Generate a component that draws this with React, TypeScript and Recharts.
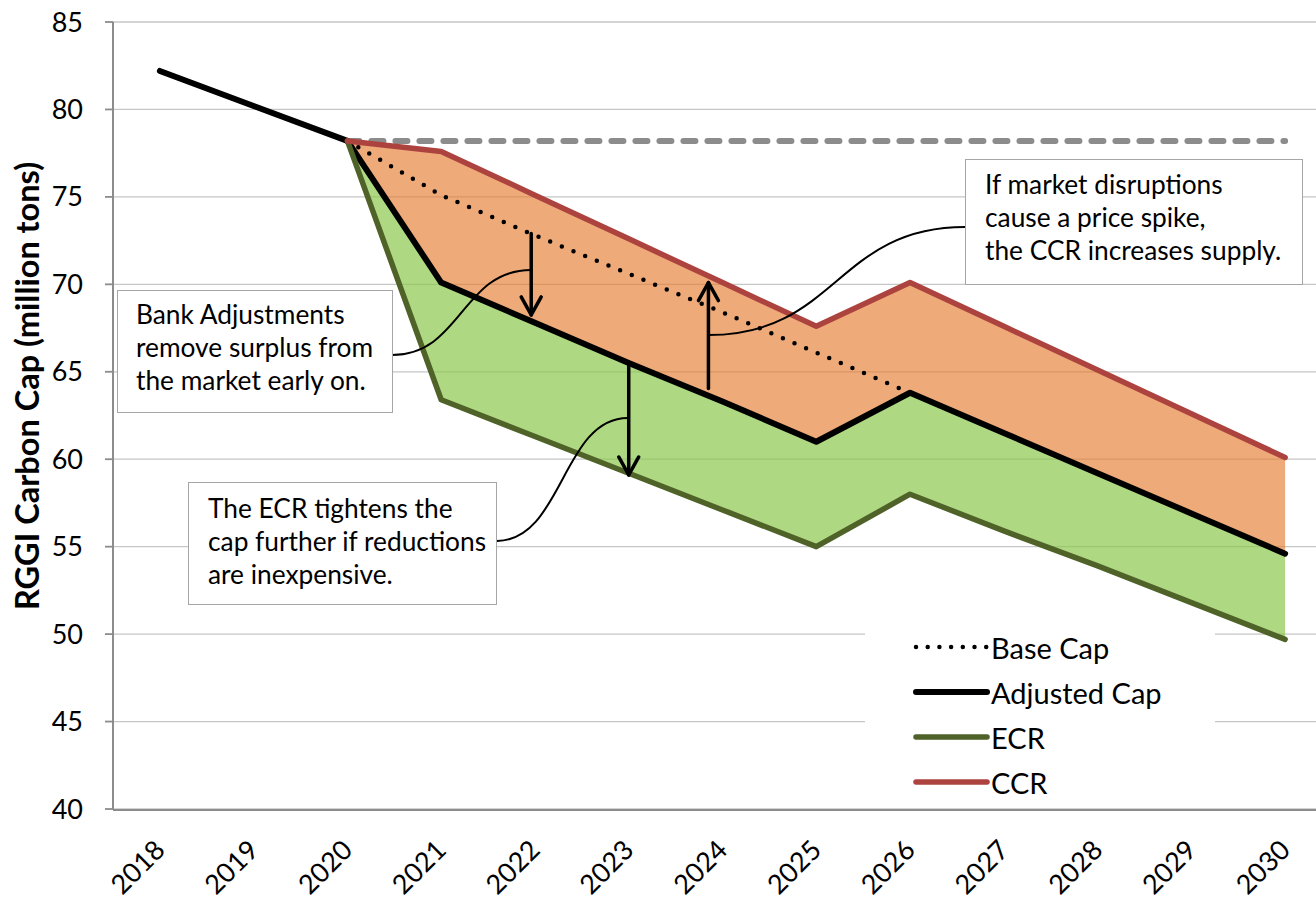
import {
  ComposedChart,
  Area,
  Line,
  XAxis,
  YAxis,
  CartesianGrid,
  ReferenceLine,
  Legend,
} from 'recharts'

const years = [2018, 2019, 2020, 2021, 2022, 2023, 2024, 2025, 2026, 2027, 2028, 2029, 2030]
const adjustedCap = [82.2, 80.2, 78.2, 70.1, 67.8, 65.5, 63.3, 61.0, 63.8, 61.5, 59.2, 56.9, 54.6]
const baseCap = [null, null, 78.2, 75.1, 72.8, 70.6, 68.4, 66.1, 63.8, null, null, null, null]
const ecrCap = [null, null, 78.2, 63.4, 61.3, 59.2, 57.1, 55.0, 58.0, 55.9, 53.9, 51.8, 49.7]
const ccrCap = [null, null, 78.2, 77.6, 75.1, 72.6, 70.1, 67.6, 70.1, 67.6, 65.1, 62.6, 60.1]
const cap2020Level = [null, null, 78.2, 78.2, 78.2, 78.2, 78.2, 78.2, 78.2, 78.2, 78.2, 78.2, 78.2]
const yTicks = [40, 45, 50, 55, 60, 65, 70, 75, 80, 85]
const categoryEdges = [2017.5, 2018.5, 2019.5, 2020.5, 2021.5, 2022.5, 2023.5, 2024.5, 2025.5, 2026.5, 2027.5, 2028.5, 2029.5, 2030.5]

const data = years.map((year, i) => ({
  year,
  adj: adjustedCap[i],
  base: baseCap[i],
  ecr: ecrCap[i],
  ccr: ccrCap[i],
  cap2020: cap2020Level[i],
}))

// annotation anchors, in data units
const arrows = [
  { x: 2021.96, from: 72.9, to: 68.25 },
  { x: 2023.85, from: 64.05, to: 70.1 },
  { x: 2023.0, from: 65.55, to: 59.1 },
]
const connectors = [
  { x1: 2020.475, y1: 65.96, x2: 2021.96, y2: 70.82 },
  { x1: 2026.586, y1: 73.28, x2: 2023.85, y2: 67.1 },
  { x1: 2021.595, y1: 55.33, x2: 2022.99, y2: 62.36 },
]

const ECR_COLOR = '#4f6228'
const CCR_COLOR = '#ac433f'
const AXIS_COLOR = '#8c8c8c'
const FONT = 'Lato, "Open Sans", sans-serif'

const legendItems = [
  { label: 'Base Cap', color: '#000', width: 4.5, dash: '0 11.7' },
  { label: 'Adjusted Cap', color: '#000', width: 6, dash: undefined },
  { label: 'ECR', color: ECR_COLOR, width: 5.5, dash: undefined },
  { label: 'CCR', color: CCR_COLOR, width: 5.5, dash: undefined },
]

function YearTick({ x, y, payload }: { x: number; y: number; payload: { value: number } }) {
  const ty = y + 36
  return (
    <g transform={`translate(${x},${ty}) rotate(-45)`}>
      <text
        x={0}
        y={0}
        dy="0.35em"
        textAnchor="end"
        fill="#000"
        style={{ fontSize: '27px', fontFamily: FONT }}
      >
        {payload.value}
      </text>
    </g>
  )
}

function NoLabel() {
  return <g />
}

function ArrowShape(p: any) {
  const { x1, y1, x2, y2 } = p
  const len = Math.hypot(x2 - x1, y2 - y1) || 1
  const ux = (x2 - x1) / len
  const uy = (y2 - y1) / len
  const bx = x2 - ux * 18
  const by = y2 - uy * 18
  return (
    <g stroke="#000" strokeWidth={3.5} fill="none" strokeLinecap="round" strokeLinejoin="round">
      <line x1={x1} y1={y1} x2={x2} y2={y2} />
      <polyline points={`${bx - uy * 10},${by + ux * 10} ${x2},${y2} ${bx + uy * 10},${by - ux * 10}`} />
    </g>
  )
}

function CurveShape(p: any) {
  const { x1, y1, x2, y2 } = p
  const xm = (x1 + x2) / 2
  return (
    <path
      d={`M${x1},${y1} C${xm},${y1} ${xm},${y2} ${x2},${y2}`}
      stroke="#000"
      strokeWidth={2}
      fill="none"
    />
  )
}

function LegendBox() {
  return (
    <div style={{ position: 'relative', width: 350, height: 183, background: '#fff', fontFamily: FONT }}>
      {legendItems.map((item, i) => (
        <div
          key={item.label}
          style={{
            position: 'absolute',
            left: 0,
            top: 22 + i * 45 - 22.5,
            height: 45,
            display: 'flex',
            alignItems: 'center',
          }}
        >
          <svg width={80} height={20} style={{ marginLeft: 48 }}>
            <line
              x1={3}
              y1={10}
              x2={74}
              y2={10}
              stroke={item.color}
              strokeWidth={item.width}
              strokeDasharray={item.dash}
              strokeLinecap="round"
            />
          </svg>
          <span style={{ fontSize: 29, color: '#000', marginLeft: -2, whiteSpace: 'nowrap' }}>{item.label}</span>
        </div>
      ))}
    </div>
  )
}

const boxStyle: React.CSSProperties = {
  position: 'absolute',
  boxSizing: 'border-box',
  background: '#fff',
  border: '1.5px solid #a6a6a6',
  fontSize: 26.3,
  lineHeight: '33px',
  color: '#000',
  whiteSpace: 'nowrap',
}

export default function App() {
  return (
    <div
      style={{
        position: 'fixed',
        left: 0,
        top: 0,
        width: 1316,
        height: 899,
        overflow: 'hidden',
        background: '#fff',
        fontFamily: FONT,
      }}
    >
      <ComposedChart width={1340} height={899} data={data} margin={{ top: 22, right: 8, bottom: 88, left: 0 }}>
        <CartesianGrid vertical={false} stroke="#c6c6c6" strokeWidth={1.3} />
        <XAxis
          dataKey="year"
          type="number"
          domain={[2017.5, 2030.5]}
          ticks={years}
          interval={0}
          height={1}
          axisLine={false}
          tickLine={false}
          tickSize={0}
          tickMargin={0}
          tick={YearTick as any}
        />
        <XAxis
          xAxisId="edges"
          type="number"
          domain={[2017.5, 2030.5]}
          ticks={categoryEdges}
          interval={0}
          height={1}
          tick={NoLabel as any}
          tickSize={9}
          axisLine={{ stroke: AXIS_COLOR, strokeWidth: 2 }}
          tickLine={{ stroke: AXIS_COLOR, strokeWidth: 1.8 }}
        />
        <YAxis
          type="number"
          domain={[40, 85]}
          ticks={yTicks}
          interval={0}
          width={113}
          tickSize={8}
          tickMargin={22}
          axisLine={{ stroke: AXIS_COLOR, strokeWidth: 2 }}
          tickLine={{ stroke: AXIS_COLOR, strokeWidth: 1.8 }}
          tick={{ fill: '#000', fontSize: 27, fontFamily: FONT }}
        />
        <Area
          dataKey={(d: any) => (d.ecr == null ? null : [d.ecr, d.adj])}
          stroke="none"
          fill="#8cc84b"
          fillOpacity={0.7}
          isAnimationActive={false}
        />
        <Area
          dataKey={(d: any) => (d.ccr == null ? null : [d.adj, d.ccr])}
          stroke="none"
          fill="#e57d2f"
          fillOpacity={0.65}
          isAnimationActive={false}
        />
        <Line
          dataKey="cap2020"
          stroke={AXIS_COLOR}
          strokeWidth={6}
          strokeDasharray="12 12"
          strokeLinecap="round"
          dot={false}
          isAnimationActive={false}
        />
        <Line
          dataKey="base"
          stroke="#000"
          strokeWidth={4.5}
          strokeDasharray="0 12.6"
          strokeLinecap="round"
          dot={false}
          isAnimationActive={false}
        />
        <Line
          dataKey="adj"
          stroke="#000"
          strokeWidth={6}
          strokeLinecap="round"
          strokeLinejoin="round"
          dot={false}
          isAnimationActive={false}
        />
        <Line
          dataKey="ecr"
          stroke={ECR_COLOR}
          strokeWidth={5.5}
          strokeLinecap="round"
          strokeLinejoin="round"
          dot={false}
          isAnimationActive={false}
        />
        <Line
          dataKey="ccr"
          stroke={CCR_COLOR}
          strokeWidth={5.5}
          strokeLinecap="round"
          strokeLinejoin="round"
          dot={false}
          isAnimationActive={false}
        />
        {arrows.map((a, i) => (
          <ReferenceLine
            key={`arrow-${i}`}
            segment={[{ x: a.x, y: a.from }, { x: a.x, y: a.to }]}
            shape={ArrowShape}
            ifOverflow="visible"
          />
        ))}
        {connectors.map((c, i) => (
          <ReferenceLine
            key={`conn-${i}`}
            segment={[{ x: c.x1, y: c.y1 }, { x: c.x2, y: c.y2 }]}
            shape={CurveShape}
            ifOverflow="visible"
          />
        ))}
        <Legend
          layout="vertical"
          align="center"
          verticalAlign="middle"
          content={<LegendBox />}
          wrapperStyle={{ left: 865, top: 625, width: 350, height: 183 }}
        />
      </ComposedChart>

      <div
        style={{
          position: 'absolute',
          left: 26,
          top: 386,
          transform: 'translate(-50%, -50%) rotate(-90deg)',
          fontSize: 32.5,
          fontWeight: 700,
          whiteSpace: 'nowrap',
          color: '#000',
        }}
      >
        RGGI Carbon Cap (million tons)
      </div>

      <div style={{ ...boxStyle, left: 117, top: 290, width: 276, height: 123, padding: '7px 0 0 18px' }}>
        Bank Adjustments
        <br />
        remove surplus from
        <br />
        the market early on.
      </div>
      <div style={{ ...boxStyle, left: 965, top: 159, width: 338, height: 126, padding: '8px 0 0 19px' }}>
        If market disruptions
        <br />
        cause a price spike,
        <br />
        the CCR increases supply.
      </div>
      <div style={{ ...boxStyle, left: 188, top: 482, width: 309, height: 123, padding: '9px 0 0 19px' }}>
        The ECR tightens the
        <br />
        cap further if reductions
        <br />
        are inexpensive.
      </div>
    </div>
  )
}
